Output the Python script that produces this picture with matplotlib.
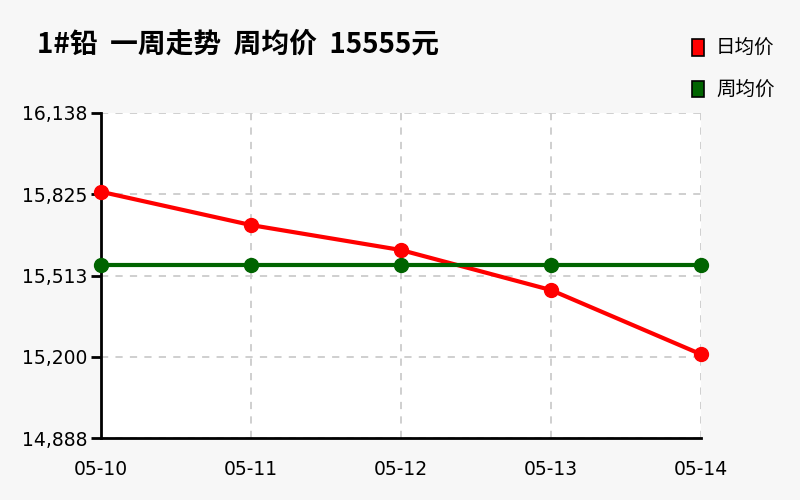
import matplotlib
matplotlib.use('Agg')
import matplotlib.pyplot as plt
from matplotlib.patches import Rectangle

plt.rcParams['font.family'] = ['Noto Sans CJK SC', 'DejaVu Sans']

dates = ['05-10', '05-11', '05-12', '05-13', '05-14']
daily = [15835, 15707, 15611, 15457, 15210]
weekly = [15555, 15555, 15555, 15555, 15555]
yticks = [14888, 15200, 15513, 15825, 16138]
title = '1#铅  一周走势  周均价  15555元'
C = {'d': '#ff0000', 'w': '#006400', 'bg': '#f7f7f7', 'grid': '#cccccc'}

fig = plt.figure(figsize=(8, 5), dpi=100, facecolor=C['bg'])
ax = fig.add_axes([0.12625, 0.124, 0.75, 0.65])
ax.set_facecolor('white')

x = list(range(len(dates)))
ax.plot(x, daily, color=C['d'], lw=3, marker='o', ms=10, zorder=3, clip_on=False)
ax.plot(x, weekly, color=C['w'], lw=3, marker='o', ms=10, zorder=3, clip_on=False)

ax.set_xlim(0, len(dates) - 1)
ax.set_ylim(yticks[0], yticks[-1])
ax.set_yticks(yticks)
ax.set_yticklabels([f'{v:,}' for v in yticks], fontsize=13.5, family='DejaVu Sans')
ax.set_xticks(x)
ax.set_xticklabels(dates, fontsize=13.5, family='DejaVu Sans')
ax.tick_params(axis='x', length=0, pad=16)
ax.tick_params(axis='y', length=7, width=2, direction='out', pad=3)
ax.grid(True, ls=(0, (4, 4)), color=C['grid'], lw=1.3)
for s in ['top', 'right']:
    ax.spines[s].set_visible(False)
for s in ['left', 'bottom']:
    ax.spines[s].set_linewidth(2)

fig.text(0.046, 0.91, title, fontsize=20, fontweight='bold', va='center', ha='left')

for yy, lab, col in [(0.905, '日均价', C['d']), (0.822, '周均价', C['w'])]:
    fig.patches.append(Rectangle((0.8645, yy - 0.016), 0.016, 0.032, transform=fig.transFigure,
                                 facecolor=col, edgecolor='black', lw=1.2))
    fig.text(0.895, yy, lab, fontsize=14, va='center', ha='left')

fig.savefig('out.png', dpi=100, facecolor=C['bg'])
